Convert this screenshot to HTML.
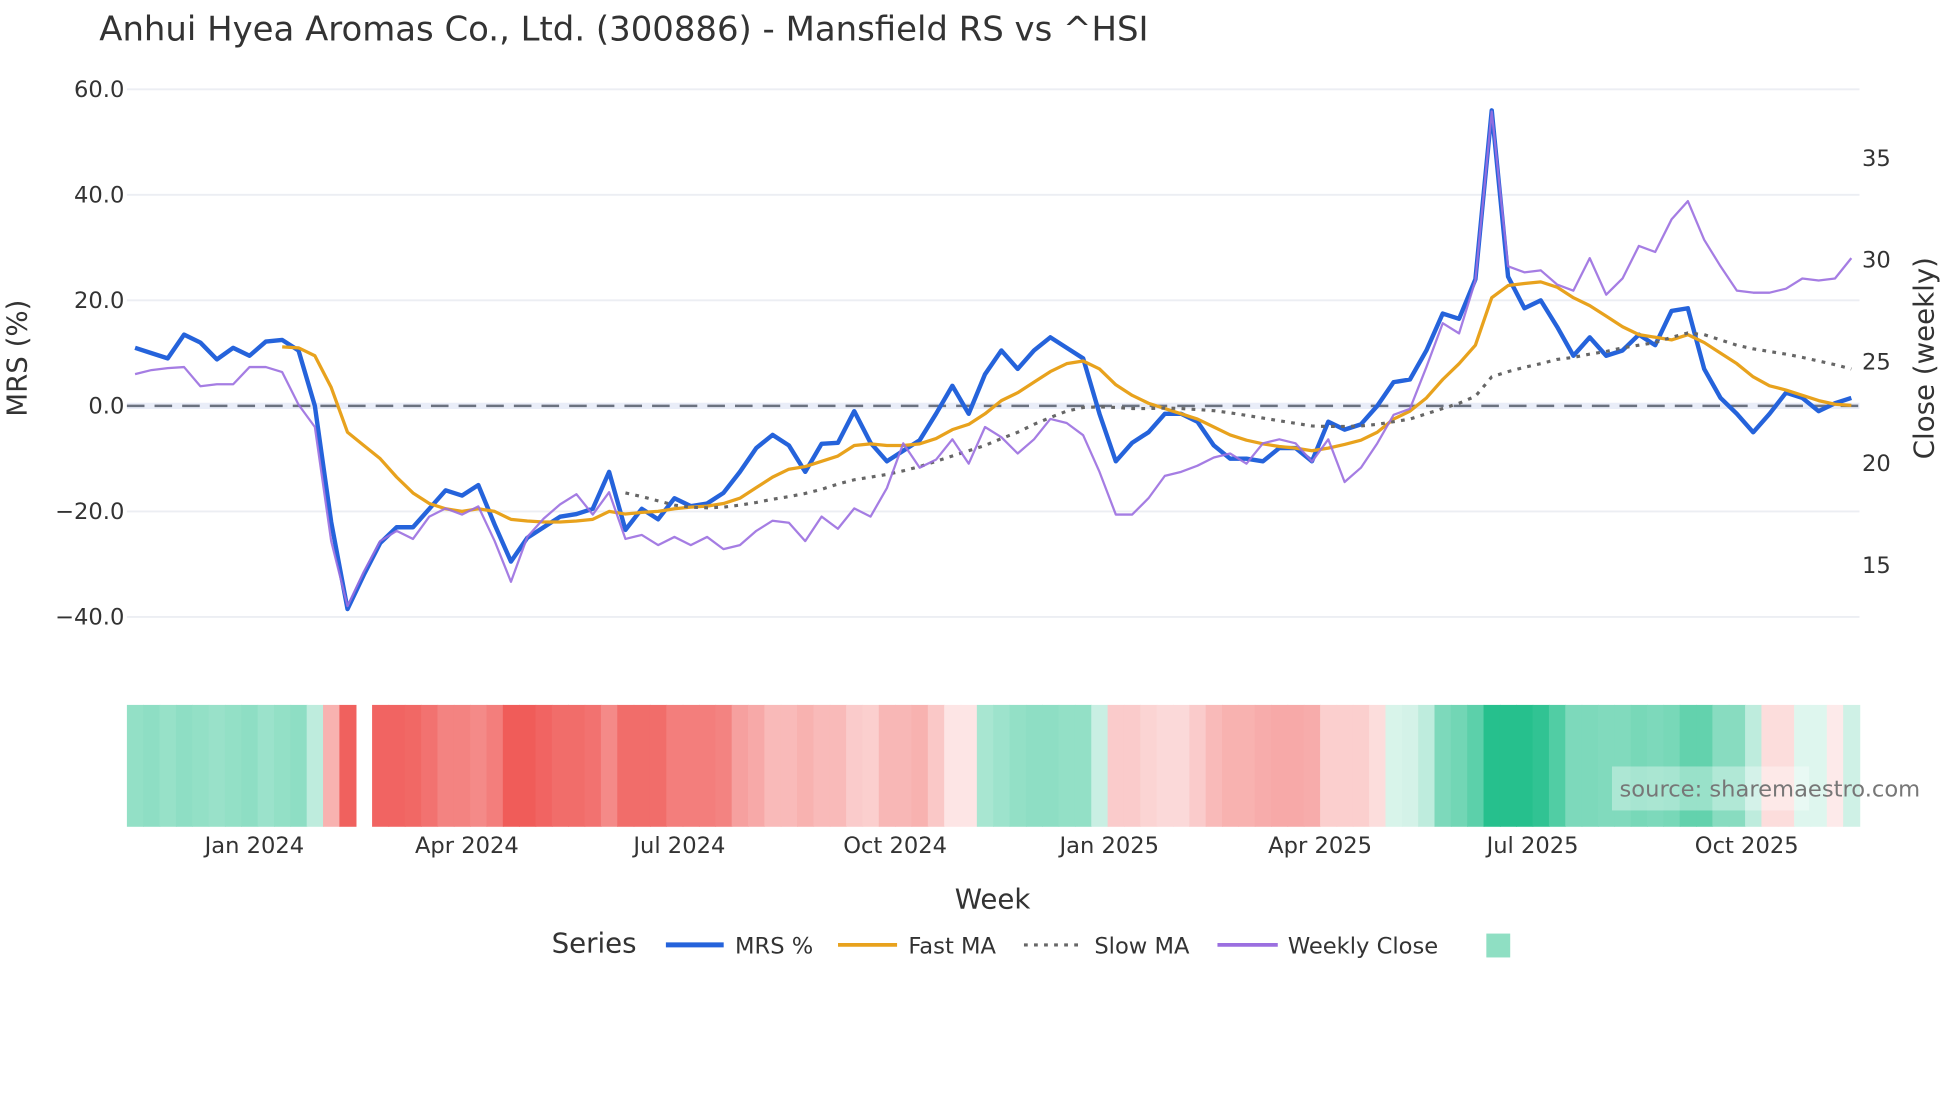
<!DOCTYPE html>
<html><head><meta charset="utf-8"><style>
html,body{margin:0;padding:0;background:#fff}
svg{display:block;font-family:"DejaVu Sans","Liberation Sans",sans-serif}
</style></head><body>
<svg id="chart" width="1960" height="1102" viewBox="0 0 1560 877" xmlns="http://www.w3.org/2000/svg">
<text x="79" y="32" font-size="27" fill="#333">Anhui Hyea Aromas Co., Ltd. (300886) - Mansfield RS vs ^HSI</text>
<g id="grid"></g>
<g id="heat"></g>
<g id="lines"></g>
<g id="axes"></g>
<text transform="translate(21,285) rotate(-90)" text-anchor="middle" font-size="22" fill="#333">MRS (%)</text>
<text transform="translate(1539,285) rotate(-90)" text-anchor="middle" font-size="22" fill="#333">Close (weekly)</text>
<text x="790" y="723" text-anchor="middle" font-size="22" fill="#333">Week</text>
<rect x="1283" y="610" width="157" height="35" fill="#fff" opacity="0.35"/>
<text x="1289" y="634" font-size="18" fill="#777">source: sharemaestro.com</text>
<g font-size="18" fill="#333">
<text x="439" y="758" font-size="22">Series</text>
<line x1="530" y1="752" x2="576" y2="752" stroke="#2563db" stroke-width="4"/>
<text x="585" y="759">MRS %</text>
<line x1="667" y1="752" x2="714" y2="752" stroke="#e8a21d" stroke-width="3"/>
<text x="723" y="759">Fast MA</text>
<line x1="815" y1="752" x2="860" y2="752" stroke="#666" stroke-width="2.5" stroke-dasharray="3 5"/>
<text x="871" y="759">Slow MA</text>
<line x1="969" y1="752" x2="1017" y2="752" stroke="#9b6fe0" stroke-width="3"/>
<text x="1025" y="759">Weekly Close</text>
<rect x="1183" y="743" width="19" height="19" fill="#8fdfc3"/>
</g>
</svg>
<script>
const mrs=[11,10,9,13.5,12,8.8,11,9.5,12.2,12.5,10.5,0,-22,-38.5,-32,-26,-23,-23,-19.5,-16,-17,-15,-22.5,-29.5,-25,-23,-21,-20.5,-19.5,-12.5,-23.5,-19.5,-21.5,-17.5,-19,-18.5,-16.5,-12.5,-8,-5.5,-7.5,-12.5,-7.2,-7,-1,-7,-10.5,-8.5,-6.5,-1.5,3.8,-1.5,6,10.5,7,10.5,13,11,9,-1.5,-10.5,-7,-5,-1.5,-1.5,-3,-7.5,-10,-10,-10.5,-8,-8,-10.5,-3,-4.5,-3.5,0,4.5,5,10.5,17.5,16.5,24,56,24.5,18.5,20,15,9.5,13,9.5,10.5,13.5,11.5,18,18.5,7,1.5,-1.5,-5,-1.5,2.5,1.5,-1,0.5,1.5];
const fastMA=[null,null,null,null,null,null,null,null,null,11.2,11,9.5,3.5,-5,-7.5,-10,-13.5,-16.5,-18.5,-19.5,-20,-19.5,-20,-21.5,-21.8,-22,-22,-21.8,-21.5,-20,-20.5,-20.2,-20,-19.5,-19.2,-19,-18.5,-17.5,-15.5,-13.5,-12,-11.5,-10.5,-9.5,-7.5,-7.2,-7.5,-7.5,-7.2,-6.2,-4.5,-3.5,-1.5,1,2.5,4.5,6.5,8,8.5,7,4,2,0.5,-0.5,-1.5,-2.5,-4,-5.5,-6.5,-7.2,-7.7,-8,-8.5,-8,-7.3,-6.5,-5,-2.5,-1,1.5,5,8,11.5,20.5,22.8,23.2,23.5,22.5,20.5,19,17,15,13.5,13,12.5,13.5,12,10,8,5.5,3.8,3,2,1,0.3,0.1];
const slowMA=[null,null,null,null,null,null,null,null,null,null,null,null,null,null,null,null,null,null,null,null,null,null,null,null,null,null,null,null,null,null,-16.5,-17.2,-18,-18.8,-19.2,-19.3,-19.2,-18.8,-18.3,-17.7,-17.2,-16.6,-15.8,-14.8,-14,-13.5,-13,-12.3,-11.5,-10.5,-9.5,-8.5,-7.5,-6.2,-5,-3.5,-2.2,-1,-0.3,-0.2,-0.3,-0.5,-0.5,-0.4,-0.5,-0.7,-0.9,-1.3,-1.8,-2.3,-2.8,-3.3,-3.8,-3.9,-3.9,-3.8,-3.5,-3,-2.5,-1.5,-0.5,0.5,1.8,5.5,6.5,7.3,8,8.8,9.2,9.8,10.3,11,11.5,12,13,13.8,13.5,12.5,11.5,10.8,10.3,9.8,9.2,8.5,7.8,7];
const weeklyClose=[24.4,24.6,24.7,24.75,23.8,23.9,23.9,24.75,24.75,24.5,22.9,21.8,16.2,13,14.7,16.2,16.7,16.3,17.4,17.8,17.5,17.9,16.2,14.2,16.4,17.3,18,18.5,17.5,18.6,16.3,16.5,16,16.4,16,16.4,15.8,16,16.7,17.2,17.1,16.2,17.4,16.8,17.8,17.4,18.8,21,19.8,20.2,21.2,20,21.8,21.3,20.5,21.2,22.2,22,21.4,19.6,17.5,17.5,18.3,19.4,19.6,19.9,20.3,20.5,20,21,21.2,21,20.1,21.2,19.1,19.8,21,22.4,22.7,24.75,26.9,26.4,29,37.3,29.7,29.4,29.5,28.8,28.5,30.1,28.3,29.1,30.7,30.4,32,32.9,31,29.7,28.5,28.4,28.4,28.6,29.1,29,29.1,30.1];
const heat=[0.5,0.52,0.48,0.52,0.5,0.47,0.5,0.52,0.46,0.5,0.52,0.3,-0.45,-0.92,null,-0.9,-0.9,-0.88,-0.82,-0.72,-0.72,-0.68,-0.75,-0.95,-0.95,-0.9,-0.85,-0.85,-0.82,-0.68,-0.85,-0.85,-0.85,-0.75,-0.75,-0.75,-0.72,-0.55,-0.5,-0.4,-0.4,-0.45,-0.4,-0.4,-0.3,-0.28,-0.42,-0.42,-0.45,-0.32,-0.15,-0.15,0.4,0.45,0.5,0.52,0.52,0.5,0.5,0.25,-0.3,-0.3,-0.25,-0.22,-0.22,-0.3,-0.4,-0.45,-0.45,-0.48,-0.5,-0.5,-0.48,-0.28,-0.28,-0.28,-0.2,0.18,0.2,0.3,0.6,0.65,0.75,1,1,1,0.95,0.8,0.6,0.6,0.58,0.58,0.62,0.6,0.62,0.72,0.72,0.55,0.55,0.3,-0.2,-0.2,0.15,0.15,-0.12,0.22];
const leftTicks=[60,40,20,0,-20,-40];
const leftTickLabels=["60.0","40.0","20.0","0.0","\u221220.0","\u221240.0"];
const rightTicks=[35,30,25,20,15];
const xTickIdx=[7.3,20.3,33.3,46.5,59.6,72.5,85.5,98.6];
const xTickLabels=["Jan 2024","Apr 2024","Jul 2024","Oct 2024","Jan 2025","Apr 2025","Jul 2025","Oct 2025"];

const NS="http://www.w3.org/2000/svg";
const X0=101,X1=1480,N=mrs.length,CW=(X1-X0)/N;
const xS=i=>X0+CW*(i+0.5);
const yL=v=>323-v*4.2;
const yR=v=>288-(v-25)*16.2;
function mk(tag,attrs,parent){const e=document.createElementNS(NS,tag);for(const k in attrs)e.setAttribute(k,attrs[k]);parent.appendChild(e);return e;}
const grid=document.getElementById('grid'),axes=document.getElementById('axes'),lines=document.getElementById('lines'),heatG=document.getElementById('heat');
leftTicks.forEach((t,k)=>{
  if(t!==0){const g=mk('line',{x1:X0,x2:X1,y1:yL(t),y2:yL(t),stroke:'#eceef3','stroke-width':1.5},grid);
  
  }
  const tx=mk('text',{x:99,y:yL(t)+6,'text-anchor':'end','font-size':18,fill:'#333'},axes);
  tx.textContent=leftTickLabels[k];
  
  
});
rightTicks.forEach(t=>{
  const tx=mk('text',{x:1482,y:yR(t)+6,'font-size':18,fill:'#333'},axes);
  tx.textContent=String(t);
  
  
});
xTickIdx.forEach((p,k)=>{
  const tx=mk('text',{x:xS(p),y:679,'text-anchor':'middle','font-size':18,fill:'#333'},axes);
  tx.textContent=xTickLabels[k];
  
  
});
const zb=mk('line',{x1:X0,x2:X1,y1:yL(0),y2:yL(0),stroke:'#e9edf8','stroke-width':5},grid);


const zl=mk('line',{x1:X0,x2:X1,y1:yL(0),y2:yL(0),stroke:'#6b7280','stroke-width':2,'stroke-dasharray':'14 8'},grid);


function heatColor(v){
  const a=Math.min(1,Math.abs(v));
  const c=v>=0?[38,192,141]:[239,83,80];
  const m=c.map(ch=>Math.round(255-(255-ch)*a));
  return 'rgb('+m.join(',')+')';
}
heat.forEach((v,i)=>{
  if(v===null)return;
  const r=mk('rect',{x:X0+CW*i,y:561,width:CW+0.6,height:97,fill:heatColor(v)},heatG);
  
  
});
function path(arr,yf){let d='',pen=false;arr.forEach((v,i)=>{if(v===null){pen=false;return;}d+=(pen?'L':'M')+xS(i).toFixed(1)+','+yf(v).toFixed(1);pen=true;});return d;}
const pm=mk('path',{d:path(mrs,yL),fill:'none',stroke:'#2563db','stroke-width':3.5,'stroke-linejoin':'round'},lines);


const pf=mk('path',{d:path(fastMA,yL),fill:'none',stroke:'#e8a21d','stroke-width':2.6,'stroke-linejoin':'round'},lines);


const ps=mk('path',{d:path(slowMA,yL),fill:'none',stroke:'#666','stroke-width':2.5,'stroke-dasharray':'3 5'},lines);


const pc=mk('path',{d:path(weeklyClose,yR),fill:'none',stroke:'#9b6fe0','stroke-width':1.8,'stroke-linejoin':'round',opacity:0.9},lines);


</script>
</body></html>
